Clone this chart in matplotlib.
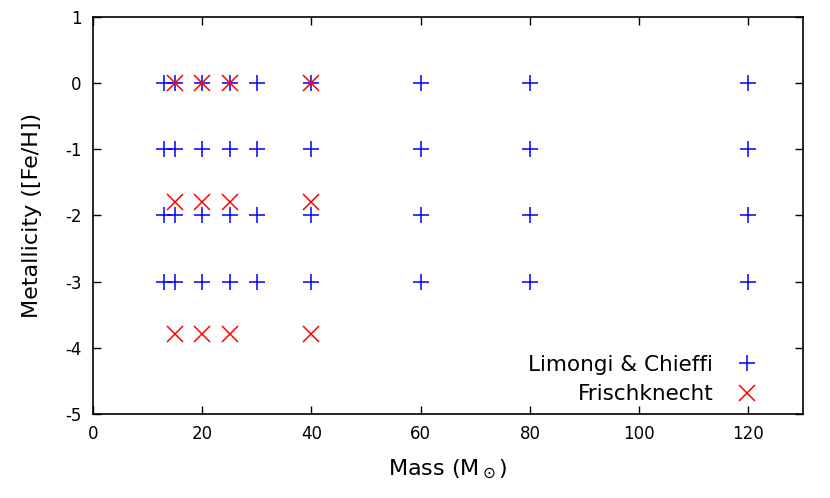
import matplotlib
matplotlib.use("Agg")
import matplotlib.pyplot as plt

lc_mass = [13, 15, 20, 25, 30, 40, 60, 80, 120]
lc_feh = [0, -1, -2, -3]
fr_mass = [15, 20, 25, 40]
fr_feh = [0, -1.8, -3.8]

plt.rcParams['font.family'] = ['DejaVu Sans']
plt.rcParams['axes.unicode_minus'] = False
plt.rcParams['mathtext.fontset'] = 'dejavusans'
fig = plt.figure(figsize=(8.3, 4.98), dpi=100)
ax = fig.add_axes([0.112, 0.169, 0.8555, 0.797])

lx = [m for z in lc_feh for m in lc_mass]
ly = [z for z in lc_feh for m in lc_mass]
fx = [m for z in fr_feh for m in fr_mass]
fy = [z for z in fr_feh for m in fr_mass]

ax.plot(lx, ly, ls='none', marker='+', ms=12, mew=1.1, color='#0000ff', label='Limongi & Chieffi')
ax.plot(fx, fy, ls='none', marker='x', ms=12, mew=1.1, color='#ff0000', label='Frischknecht')

ax.set_xlim(0, 130)
ax.set_ylim(-5, 1)
ax.set_xticks(range(0, 121, 20))
ax.set_yticks(range(-5, 2))
ax.tick_params(direction='in', top=True, right=True, length=6, width=1, labelsize=12, pad=8)
for s in ax.spines.values():
    s.set_linewidth(1.2)
ax.set_xlabel(r'Mass (M$_\odot$)', fontsize=16, labelpad=11)
ax.set_ylabel('Metallicity ([Fe/H])', fontsize=16, labelpad=17)
leg = ax.legend(loc='lower right', markerfirst=False, frameon=False, fontsize=15.5,
                handletextpad=0.55, handlelength=2.0, borderaxespad=0.0, borderpad=0.4,
                labelspacing=0.43, bbox_to_anchor=(0.963, 0.003))
for t in leg.get_texts():
    t.set_ha('right')
fig.savefig('out.png', dpi=100)
